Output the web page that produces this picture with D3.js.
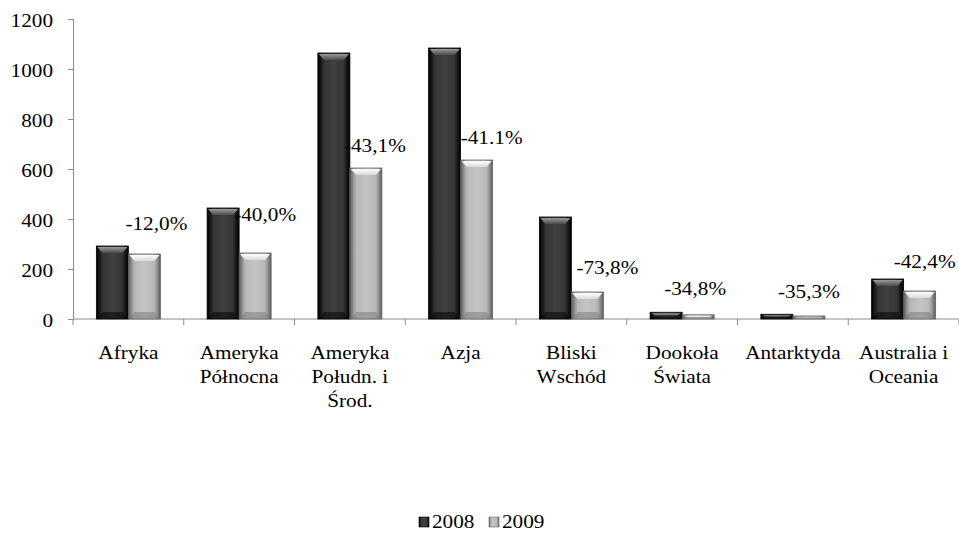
<!DOCTYPE html>
<html>
<head>
<meta charset="utf-8">
<script src="https://cdn.jsdelivr.net/npm/d3@7.9.0/dist/d3.min.js"></script>
<style>
  body { margin: 0; background: #fff; }
</style>
</head>
<body>
<svg id="chart" width="959" height="533"></svg>
<script>
const categories = [
  ['Afryka'],
  ['Ameryka', 'Północna'],
  ['Ameryka', 'Połudn. i', 'Środ.'],
  ['Azja'],
  ['Bliski', 'Wschód'],
  ['Dookoła', 'Świata'],
  ['Antarktyda'],
  ['Australia i', 'Oceania']
];
const years = ['2008', '2009'];
const values2008 = [292, 444, 1064, 1084, 408, 27, 19, 160];
const values2009 = [260, 264, 604, 636, 108, 17, 12, 112];
const changeLabels = ['-12,0%', '-40,0%', '-43,1%', '-41.1%', '-73,8%', '-34,8%', '-35,3%', '-42,4%'];
const yTicks = [0, 200, 400, 600, 800, 1000, 1200];

// hand-placed nudges of the % labels, relative to the top of the 2009 bar
const labelDx = [12, 10, 9, 15, 20, -3, 0, 5];
const labelDy = [-24, -32, -16, -16, -18, -20, -18, -23];

const serif = '"Liberation Serif", "DejaVu Serif", serif';
const stretch = 'scale(1.18,1)'; // the original text is a bit wide
const svg = d3.select('#chart');
const plotLeft = 73, plotRight = 959, plotTop = 19, plotBottom = 319;

const x0 = d3.scaleBand().domain(d3.range(categories.length)).range([plotLeft, plotRight]).padding(0);
const x1 = d3.scaleBand().domain(years).range([0, x0.bandwidth()]).paddingInner(0).paddingOuter(0.73);
const y = d3.scaleLinear().domain([0, 1200]).range([plotBottom, plotTop]);

function label(parent, px, py, txt, anchor) {
  return parent.append('text')
    .attr('transform', `translate(${px},${py}) ${stretch}`)
    .attr('text-anchor', anchor)
    .style('font-family', serif).style('font-size', '18px').attr('fill', '#000')
    .text(txt);
}

// gradients for the bevelled bars
const defs = svg.append('defs');
function grad(id, vertical, stops) {
  const g = defs.append('linearGradient').attr('id', id)
    .attr('x1', 0).attr('y1', 0).attr('x2', vertical ? 0 : 1).attr('y2', vertical ? 1 : 0);
  stops.forEach(([o, c]) => g.append('stop').attr('offset', o).attr('stop-color', c));
}
grad('body2008', false, [[0, '#000'], [0.12, '#1e1e1e'], [0.2, '#353535'], [0.5, '#404040'], [0.8, '#353535'], [0.88, '#1e1e1e'], [1, '#000']]);
grad('body2009', false, [[0, '#5a5a5a'], [0.12, '#9a9a9a'], [0.2, '#b8b8b8'], [0.5, '#c4c4c4'], [0.8, '#b8b8b8'], [0.88, '#9a9a9a'], [1, '#5a5a5a']]);
grad('top2008', true, [[0, '#9a9a9a'], [1, '#4a4a4a']]);
grad('top2009', true, [[0, '#ffffff'], [1, '#d8d8d8']]);

// axes
const yAxis = d3.axisLeft(y).tickValues(yTicks).tickFormat(d3.format('d')).tickSize(5).tickPadding(15);
const gy = svg.append('g').attr('transform', `translate(${plotLeft},0)`).call(yAxis);
gy.attr('font-family', null).attr('font-size', null);
gy.select('.domain').attr('stroke', '#8c8c8c');
gy.selectAll('.tick line').attr('stroke', '#8c8c8c');
gy.selectAll('.tick text')
  .attr('x', 0).attr('dy', '0.4em')
  .attr('transform', `translate(-20,0) ${stretch}`)
  .style('font-family', serif).style('font-size', '18px');

const xAxisLine = svg.append('g');
xAxisLine.append('line').attr('x1', plotLeft).attr('x2', plotRight)
  .attr('y1', plotBottom).attr('y2', plotBottom).attr('stroke', '#8c8c8c');
xAxisLine.selectAll('line.tick').data(d3.range(categories.length + 1)).join('line')
  .attr('class', 'tick')
  .attr('x1', i => plotLeft + i * x0.step()).attr('x2', i => plotLeft + i * x0.step())
  .attr('y1', plotBottom).attr('y2', plotBottom + 6).attr('stroke', '#8c8c8c');

// bars
const series = [values2008, values2009];
years.forEach((yr, s) => {
  const g = svg.append('g');
  series[s].forEach((v, i) => {
    const bx = x0(i) + x1(yr), bw = x1.bandwidth();
    const by = y(v), bh = plotBottom - by;
    const bev = Math.min(7, bh / 2);
    g.append('rect').attr('x', bx).attr('y', by).attr('width', bw).attr('height', bh)
      .attr('fill', `url(#body${yr})`).attr('stroke', s === 0 ? '#000' : '#666').attr('stroke-width', 0.8);
    g.append('path')
      .attr('d', `M${bx + 1},${by + 1}L${bx + bw - 1},${by + 1}L${bx + bw - 6},${by + bev}L${bx + 6},${by + bev}Z`)
      .attr('fill', `url(#top${yr})`);
    g.append('path')
      .attr('d', `M${bx + 1},${plotBottom}L${bx + bw - 1},${plotBottom}L${bx + bw - 6},${plotBottom - bev}L${bx + 6},${plotBottom - bev}Z`)
      .attr('fill', s === 0 ? '#000' : '#777').attr('opacity', 0.5);
  });
});

// percentage labels
const pctG = svg.append('g');
changeLabels.forEach((txt, i) => {
  const cx = x0(i) + x1('2009') + x1.bandwidth() / 2 + labelDx[i];
  label(pctG, cx, y(values2009[i]) + labelDy[i], txt, 'middle');
});

// category labels
const catG = svg.append('g');
categories.forEach((lines, i) => {
  const cx = x0(i) + x0.bandwidth() / 2;
  lines.forEach((ln, k) => label(catG, cx, 359 + k * 24, ln, 'middle'));
});

// legend
const legend = svg.append('g').attr('transform', 'translate(419,528)');
const legendX = d3.scalePoint().domain(years).range([0, 70]);
years.forEach(yr => {
  const lx = legendX(yr);
  legend.append('rect').attr('x', lx).attr('y', -11).attr('width', 10).attr('height', 10)
    .attr('fill', `url(#body${yr})`).attr('stroke', yr === '2008' ? '#000' : '#666').attr('stroke-width', 0.6);
  label(legend, lx + 13, 0, yr, 'start');
});
</script>
</body>
</html>
